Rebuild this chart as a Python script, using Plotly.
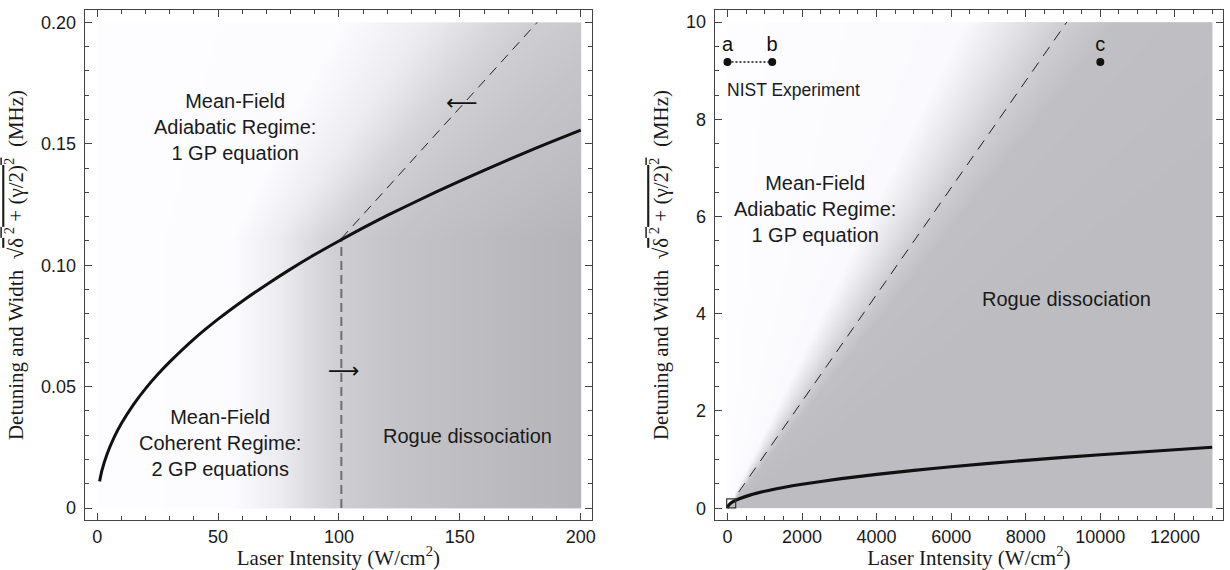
import numpy as np
import plotly.graph_objects as go

# ---------------- data ----------------
# left panel (0-200 W/cm^2)
left_curve_x = [1, 2, 4, 7, 10, 15, 20, 25, 30, 40, 50, 60, 70, 80, 90, 100,
                110, 120, 140, 160, 180, 200]
left_curve_y = [0.0110, 0.0156, 0.0220, 0.0291, 0.0348, 0.0426, 0.0492, 0.0550,
                0.0602, 0.0696, 0.0778, 0.0852, 0.0920, 0.0984, 0.1044, 0.1100,
                0.1154, 0.1205, 0.1301, 0.1391, 0.1476, 0.1556]
left_diag_x = [101, 182]
left_diag_y = [0.111, 0.200]
left_vert_x = [101, 101]
left_vert_y = [0.0, 0.111]

# right panel (0-13000 W/cm^2)
right_curve_x = [0, 20, 60, 150, 300, 600, 1000, 1500, 2000, 3000, 4000, 5000,
                 6000, 8000, 10000, 13000]
right_curve_y = [0.0, 0.049, 0.085, 0.135, 0.190, 0.269, 0.348, 0.426, 0.492,
                 0.602, 0.696, 0.778, 0.852, 0.984, 1.100, 1.254]
right_diag_x = [300, 9100]
right_diag_y = [0.33, 10.0]
nist_ab_x = [0, 1200]
nist_ab_y = [9.18, 9.18]
nist_ab_labels = ["a", "b"]
nist_c_x = [10000]
nist_c_y = [9.18]
nist_c_labels = ["c"]
box_x = [100]
box_y = [0.1]

# shading (rogue-dissociation measure) boundaries
adiabatic_slope = 0.0011   # slope of the dashed line, MHz per W/cm^2
coherent_limit = 101       # position of the vertical dashed line, W/cm^2
left_shade_extent = (200, 0.2)
right_shade_extent = (13000, 10.0)
left_gray_stops = [(0.0, 253), (0.55, 252), (0.75, 236), (0.9, 216), (1.0, 206),
                   (1.2, 197), (1.6, 188), (2.0, 180)]
right_gray_stops = [(0.0, 253), (0.7, 250), (0.85, 228), (1.0, 205), (1.15, 192),
                    (2.0, 189)]

# tick labels
left_xticks = [0, 50, 100, 150, 200]
left_yticks = [0, 0.05, 0.10, 0.15, 0.20]
left_yticktext = ["0", "0.05", "0.10", "0.15", "0.20"]
right_xticks = [0, 2000, 4000, 6000, 8000, 10000, 12000]
right_yticks = [0, 2, 4, 6, 8, 10]


def scale(stops, zmax=2.0):
    return [[s / zmax, f"rgb({g},{g},{min(255, g + 4)})"] for s, g in stops]


W, H = 1230, 570
fig = go.Figure()

# ---- left shading ----
lx = np.linspace(0, left_shade_extent[0], 201)
ly = np.linspace(0, left_shade_extent[1], 101)
lxc = (lx[:-1] + lx[1:]) / 2
lyc = (ly[:-1] + ly[1:]) / 2
LX, LY = np.meshgrid(lxc, lyc)
lz = LX / np.maximum(coherent_limit, LY / adiabatic_slope)
fig.add_trace(go.Heatmap(x=lxc, y=lyc, z=lz, colorscale=scale(left_gray_stops),
                         zmin=0, zmax=2, showscale=False, zsmooth="best",
                         hoverinfo="skip", xaxis="x", yaxis="y"))

# ---- right shading ----
rx = np.linspace(0, right_shade_extent[0], 261)
ry = np.linspace(0, right_shade_extent[1], 201)
rxc = (rx[:-1] + rx[1:]) / 2
ryc = (ry[:-1] + ry[1:]) / 2
RX, RY = np.meshgrid(rxc, ryc)
rz = RX / (RY / adiabatic_slope)
fig.add_trace(go.Heatmap(x=rxc, y=ryc, z=rz, colorscale=scale(right_gray_stops),
                         zmin=0, zmax=2, showscale=False, zsmooth="best",
                         hoverinfo="skip", xaxis="x2", yaxis="y2"))

# ---- left lines ----
fig.add_trace(go.Scatter(x=left_vert_x, y=left_vert_y, mode="lines",
                         line=dict(color="#6e6e6e", width=2, dash="9px,5px"),
                         xaxis="x", yaxis="y"))
fig.add_trace(go.Scatter(x=left_diag_x, y=left_diag_y, mode="lines",
                         line=dict(color="#222", width=1, dash="10px,7px"),
                         xaxis="x", yaxis="y"))
fig.add_trace(go.Scatter(x=left_curve_x, y=left_curve_y, mode="lines",
                         line=dict(color="#111", width=3, shape="spline", smoothing=0.6),
                         xaxis="x", yaxis="y"))

# ---- right lines ----
fig.add_trace(go.Scatter(x=right_diag_x, y=right_diag_y, mode="lines",
                         line=dict(color="#222", width=1, dash="11px,8px"),
                         xaxis="x2", yaxis="y2"))
fig.add_trace(go.Scatter(x=right_curve_x, y=right_curve_y, mode="lines",
                         line=dict(color="#111", width=3.2, shape="spline", smoothing=0.6),
                         xaxis="x2", yaxis="y2"))
fig.add_trace(go.Scatter(x=box_x, y=box_y, mode="markers",
                         marker=dict(symbol="square-open", size=9,
                                     color="#333", line=dict(width=1.2)),
                         xaxis="x2", yaxis="y2"))
fig.add_trace(go.Scatter(x=nist_ab_x, y=nist_ab_y, mode="lines+markers+text",
                         text=nist_ab_labels, textposition="top center",
                         textfont=dict(family="Liberation Sans, Arial", size=20, color="#111"),
                         line=dict(color="#111", width=1.5, dash="2px,2px"),
                         marker=dict(size=8, color="#111"),
                         xaxis="x2", yaxis="y2"))
fig.add_trace(go.Scatter(x=nist_c_x, y=nist_c_y, mode="markers+text",
                         text=nist_c_labels, textposition="top center",
                         textfont=dict(family="Liberation Sans, Arial", size=20, color="#111"),
                         marker=dict(size=8, color="#111"),
                         xaxis="x2", yaxis="y2"))

sans = "Liberation Sans, Arial, Helvetica, sans-serif"
serif = "Liberation Serif, Times New Roman, serif"
txt = dict(family=sans, size=20, color="#1a1a1a")


def ann(x, y, text, xref, yref, **kw):
    d = dict(x=x, y=y, text=text, xref=xref, yref=yref, showarrow=False, font=txt)
    d.update(kw)
    fig.add_annotation(**d)


ann(57, 0.157, "Mean-Field<br>Adiabatic Regime:<br>1 GP equation", "x", "y")
ann(51, 0.0267, "Mean-Field<br>Coherent Regime:<br>2 GP equations", "x", "y")
ann(153, 0.0297, "Rogue dissociation", "x", "y")
ann(151, 0.167, "⟵", "x", "y", font=dict(family="DejaVu Sans", size=22, color="#111"))
ann(102, 0.0567, "⟶", "x", "y", font=dict(family="DejaVu Sans", size=22, color="#111"))

ann(2338, 6.15, "Mean-Field<br>Adiabatic Regime:<br>1 GP equation", "x2", "y2")
ann(9088, 4.31, "Rogue dissociation", "x2", "y2")
ann(-60, 8.61, "NIST Experiment", "x2", "y2", xanchor="left",
    font=dict(family=sans, size=17.5, color="#1a1a1a"))

ytitle = ("Detuning and Width  √<span style='text-decoration:overline'>"
          "δ<sup> 2</sup> + (γ/2)<sup>2</sup></span>  (MHz)")
xtitle = "Laser Intensity (W/cm<sup>2</sup>)"

common = dict(showline=True, mirror="allticks", linecolor="#444", linewidth=1,
              ticks="inside", ticklen=7, tickcolor="#444", tickwidth=1,
              showgrid=False, zeroline=False,
              tickfont=dict(family=sans, size=18, color="#1a1a1a"))

xtitle_d = dict(text=xtitle, font=dict(family=serif, size=21, color="#1a1a1a"), standoff=0)
ytitle_d = dict(text=ytitle, font=dict(family=serif, size=21, color="#1a1a1a"), standoff=11)

ydom = [1 - 520 / H, 1 - 10 / H]
fig.update_layout(
    width=W, height=H, margin=dict(l=0, r=0, t=0, b=0),
    paper_bgcolor="white", plot_bgcolor="white", showlegend=False,
    xaxis=dict(domain=[85 / W, 594 / W], range=[-5.15, 204.7], anchor="y",
               tickmode="array", tickvals=left_xticks, ticklabelstandoff=0,
               minor=dict(tickmode="linear", tick0=0, dtick=10, ticks="inside",
                          ticklen=4, tickcolor="#444"),
               title=xtitle_d, **common),
    yaxis=dict(domain=ydom, range=[-0.0049, 0.2051], anchor="x",
               tickmode="array", tickvals=left_yticks, ticktext=left_yticktext,
               ticklabelstandoff=4,
               minor=dict(tickmode="linear", tick0=0, dtick=0.01, ticks="inside",
                          ticklen=4, tickcolor="#444"),
               title=ytitle_d, **common),
    xaxis2=dict(domain=[717 / W, 1227 / W], range=[-343, 13290], anchor="y2",
                tickmode="array", tickvals=right_xticks, ticklabelstandoff=0,
                ticktext=[str(v) for v in right_xticks],
                minor=dict(tickmode="linear", tick0=0, dtick=500, ticks="inside",
                           ticklen=4, tickcolor="#444"),
                title=xtitle_d, **common),
    yaxis2=dict(domain=ydom, range=[-0.243, 10.25], anchor="x2",
                tickmode="array", tickvals=right_yticks, ticklabelstandoff=4,
                minor=dict(tickmode="linear", tick0=0, dtick=0.5, ticks="inside",
                           ticklen=4, tickcolor="#444"),
                title=ytitle_d, **common),
)

fig.write_html("out.html")
